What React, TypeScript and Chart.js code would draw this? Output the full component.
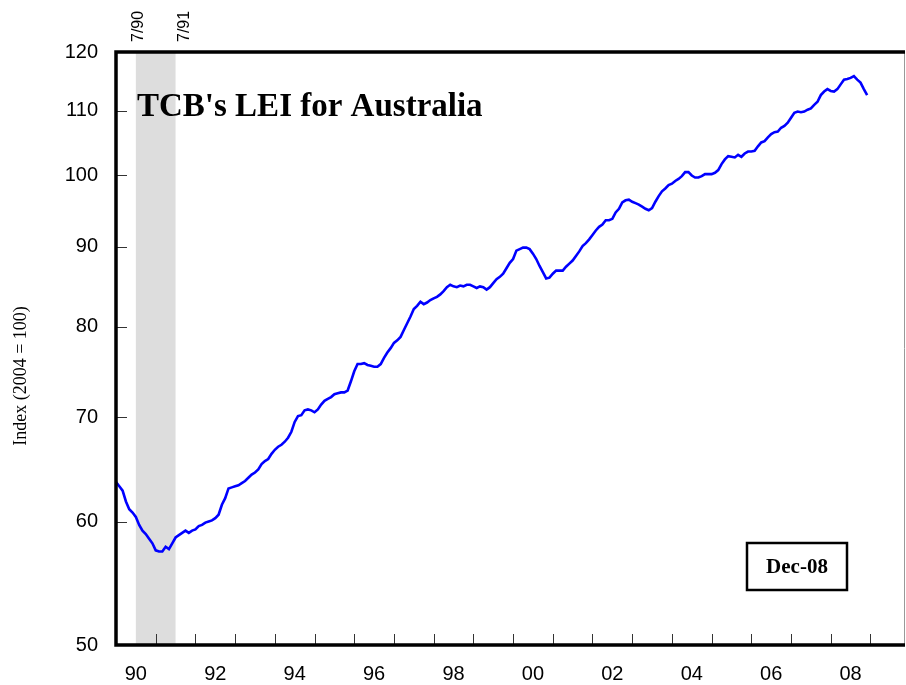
import React, { useEffect, useRef } from "react";
import { Chart, registerables } from "chart.js";

Chart.register(...registerables);

// ---- Data (monthly, Jan 1990 – Dec 2008) ----
const START_YEAR = 1990;
const lei: number[] = [
  63.6, 63.2, 62.8, 61.8, 61.1, 60.8, 60.4, 59.7, 59.2, 58.9, 58.5, 58.1, // 1990
  57.5, 57.4, 57.4, 57.8, 57.6, 58.1, 58.6, 58.8, 59.0, 59.2, 59.0, 59.2, // 1991
  59.3, 59.6, 59.7, 59.9, 60.0, 60.1, 60.3, 60.6, 61.5, 62.1, 63.0, 63.1, // 1992
  63.2, 63.3, 63.5, 63.7, 64.0, 64.3, 64.5, 64.8, 65.3, 65.6, 65.8, 66.3, // 1993
  66.7, 67.0, 67.2, 67.5, 67.9, 68.5, 69.5, 70.1, 70.2, 70.7, 70.8, 70.7, // 1994
  70.5, 70.8, 71.3, 71.7, 71.9, 72.1, 72.4, 72.5, 72.6, 72.6, 72.8, 73.8, // 1995
  74.9, 75.7, 75.7, 75.8, 75.6, 75.5, 75.4, 75.4, 75.7, 76.4, 77.0, 77.5, // 1996
  78.1, 78.4, 78.8, 79.6, 80.4, 81.2, 82.1, 82.5, 83.0, 82.7, 82.9, 83.2, // 1997
  83.4, 83.6, 83.9, 84.3, 84.8, 85.1, 84.9, 84.8, 85.0, 84.9, 85.1, 85.1, // 1998
  84.9, 84.7, 84.9, 84.8, 84.5, 84.8, 85.3, 85.8, 86.1, 86.5, 87.2, 87.9, // 1999
  88.4, 89.5, 89.7, 89.9, 89.9, 89.7, 89.1, 88.4, 87.5, 86.7, 85.9, 86.0, // 2000
  86.5, 86.9, 86.9, 86.9, 87.4, 87.8, 88.2, 88.8, 89.4, 90.1, 90.5, 91.0, // 2001
  91.6, 92.2, 92.7, 93.0, 93.6, 93.6, 93.8, 94.7, 95.2, 96.1, 96.4, 96.5, // 2002
  96.2, 96.0, 95.8, 95.5, 95.2, 95.0, 95.3, 96.2, 97.0, 97.7, 98.1, 98.6, // 2003
  98.8, 99.2, 99.5, 99.9, 100.5, 100.5, 100.0, 99.7, 99.7, 99.9, 100.2, 100.2, // 2004
  100.2, 100.4, 100.8, 101.7, 102.4, 102.9, 102.8, 102.7, 103.1, 102.8, 103.3, 103.6, // 2005
  103.6, 103.7, 104.4, 105.0, 105.2, 105.8, 106.3, 106.6, 106.7, 107.3, 107.6, 108.1, // 2006
  108.9, 109.7, 109.9, 109.8, 109.9, 110.2, 110.4, 111.0, 111.5, 112.6, 113.2, 113.6, // 2007
  113.3, 113.2, 113.6, 114.4, 115.2, 115.3, 115.5, 115.8, 115.2, 114.7, 113.6, 112.6, // 2008
];
const yTickValues: number[] = [50, 60, 70, 80, 90, 100, 110, 120];
const xLabelYears: number[] = [1990, 1992, 1994, 1996, 1998, 2000, 2002, 2004, 2006, 2008];
const xTickYears: number[] = [1991, 1992, 1993, 1994, 1995, 1996, 1997, 1998, 1999, 2000, 2001, 2002, 2003, 2004, 2005, 2006, 2007, 2008, 2009];
const recessionStart = 1990.5; // 7/90
const recessionEnd = 1991.5; // 7/91
const recessionLabels: string[] = ["7/90", "7/91"];
const chartTitle = "TCB's LEI for Australia";
const yAxisTitle = "Index (2004 = 100)";
const dateStamp = "Dec-08";

const SANS = "'Liberation Sans', Arial, sans-serif";
const SERIF = "'Liberation Serif', 'Times New Roman', serif";

const decorPlugin = {
  id: "decor",
  beforeDatasetsDraw(chart: any) {
    const { ctx, chartArea, scales } = chart;
    const x = scales.x;
    const x0 = x.getPixelForValue(recessionStart);
    const x1 = x.getPixelForValue(recessionEnd);
    ctx.save();
    ctx.fillStyle = "#DDDDDD";
    ctx.fillRect(x0, chartArea.top, x1 - x0, chartArea.bottom - chartArea.top);
    ctx.restore();
  },
  afterDatasetsDraw(chart: any) {
    const { ctx, chartArea, scales } = chart;
    const { left, right, top, bottom } = chartArea;
    const x = scales.x;
    const y = scales.y;
    ctx.save();

    // tick marks (inside)
    ctx.strokeStyle = "#333333";
    ctx.lineWidth = 1;
    yTickValues.forEach((v) => {
      if (v <= 50 || v >= 120) return;
      const py = Math.round(y.getPixelForValue(v)) + 0.5;
      ctx.beginPath();
      ctx.moveTo(left, py);
      ctx.lineTo(left + 11, py);
      ctx.stroke();
    });
    xTickYears.forEach((yr) => {
      const px = Math.round(x.getPixelForValue(yr)) + 0.5;
      ctx.beginPath();
      ctx.moveTo(px, bottom);
      ctx.lineTo(px, bottom - 11);
      ctx.stroke();
    });

    // frame
    ctx.strokeStyle = "#999999";
    ctx.lineWidth = 1;
    ctx.beginPath();
    ctx.moveTo(right - 0.5, top);
    ctx.lineTo(right - 0.5, bottom);
    ctx.stroke();
    ctx.strokeStyle = "#000000";
    ctx.lineWidth = 3.5;
    ctx.beginPath();
    ctx.moveTo(left, top);
    ctx.lineTo(right, top);
    ctx.moveTo(left, bottom);
    ctx.lineTo(right, bottom);
    ctx.moveTo(left, top - 1.75);
    ctx.lineTo(left, bottom + 1.75);
    ctx.stroke();

    // recession labels (rotated)
    ctx.fillStyle = "#000000";
    ctx.font = `16px ${SANS}`;
    ctx.textAlign = "left";
    ctx.textBaseline = "middle";
    const labelX = [x.getPixelForValue(recessionStart) + 2.5, x.getPixelForValue(recessionEnd) + 9];
    recessionLabels.forEach((t, i) => {
      ctx.save();
      ctx.translate(labelX[i], 42);
      ctx.rotate(-Math.PI / 2);
      ctx.fillText(t, 0, 0);
      ctx.restore();
    });

    // chart title
    ctx.font = `bold 33px ${SERIF}`;
    ctx.textAlign = "left";
    ctx.textBaseline = "alphabetic";
    ctx.fillText(chartTitle, left + 21, 116);

    // y axis title
    ctx.save();
    ctx.font = `18px ${SERIF}`;
    ctx.textAlign = "center";
    ctx.textBaseline = "middle";
    ctx.translate(21, 376);
    ctx.rotate(-Math.PI / 2);
    ctx.fillText(yAxisTitle, 0, 0);
    ctx.restore();

    // date stamp box
    const bx = right - 158;
    const by = 543;
    const bw = 100;
    const bh = 47;
    ctx.fillStyle = "#FFFFFF";
    ctx.fillRect(bx, by, bw, bh);
    ctx.strokeStyle = "#000000";
    ctx.lineWidth = 2.5;
    ctx.strokeRect(bx, by, bw, bh);
    ctx.fillStyle = "#000000";
    ctx.font = `bold 21px ${SERIF}`;
    ctx.textAlign = "center";
    ctx.textBaseline = "middle";
    ctx.fillText(dateStamp, bx + bw / 2, by + bh / 2 + 1);

    ctx.restore();
  },
};

export default function App() {
  const canvasRef = useRef<HTMLCanvasElement | null>(null);

  useEffect(() => {
    if (!canvasRef.current) return;
    const points = lei.map((v, i) => ({ x: START_YEAR + i / 12, y: v }));
    const chart = new Chart(canvasRef.current, {
      type: "line",
      data: {
        datasets: [
          {
            label: chartTitle,
            data: points,
            borderColor: "#0000FF",
            borderWidth: 2.6,
            pointRadius: 0,
            tension: 0,
            fill: false,
          },
        ],
      },
      options: {
        animation: false,
        responsive: false,
        devicePixelRatio: 1,
        layout: { padding: { top: 52, right: 1, left: 0, bottom: 0 } },
        plugins: {
          legend: { display: false },
          tooltip: { enabled: false },
          title: { display: false },
        },
        scales: {
          x: {
            type: "linear",
            position: "bottom",
            min: START_YEAR,
            max: 2009.87,
            afterBuildTicks: (scale: any) => {
              scale.ticks = xLabelYears.map((yr) => ({ value: yr + 0.5 }));
            },
            afterFit: (scale: any) => {
              scale.height = 40;
            },
            ticks: {
              autoSkip: false,
              maxRotation: 0,
              minRotation: 0,
              padding: 17,
              color: "#000000",
              font: { family: SANS, size: 20 },
              callback: (v: any) => String(Math.floor(Number(v)) % 100).padStart(2, "0"),
            },
            grid: { display: false, drawTicks: false, drawOnChartArea: false },
            border: { display: false },
          },
          y: {
            type: "logarithmic",
            position: "left",
            min: 50,
            max: 120,
            afterBuildTicks: (scale: any) => {
              scale.ticks = yTickValues.map((v) => ({ value: v }));
            },
            afterFit: (scale: any) => {
              scale.width = 116;
            },
            ticks: {
              padding: 18,
              color: "#000000",
              font: { family: SANS, size: 20 },
              callback: (v: any) => String(v),
            },
            grid: { display: false, drawTicks: false, drawOnChartArea: false },
            border: { display: false },
          },
        },
      },
      plugins: [decorPlugin],
    });
    return () => chart.destroy();
  }, []);

  return (
    <div style={{ position: "absolute", left: 0, top: 0, width: 906, height: 685, background: "#FFFFFF" }}>
      <canvas ref={canvasRef} width={906} height={685} style={{ display: "block" }} />
    </div>
  );
}
